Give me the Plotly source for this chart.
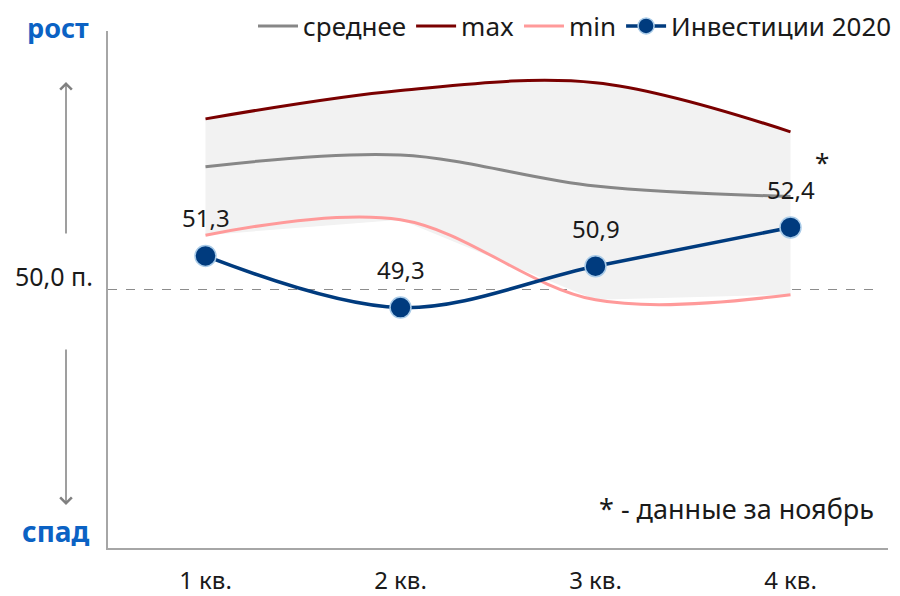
import plotly.graph_objects as go

quarters = ["1 кв.", "2 кв.", "3 кв.", "4 кв."]
mean_vals = [54.75, 55.2, 54.0, 53.6]
max_vals = [56.6, 57.7, 58.0, 56.1]
min_vals = [52.1, 52.7, 49.6, 49.8]
invest_vals = [51.3, 49.3, 50.9, 52.4]
threshold = 50.0

FONT = "Noto Sans"
TXT = "#1a1a1a"
BLUE_TXT = "#0B62C4"

fig = go.Figure()

# shaded band between min and max
fig.add_trace(go.Scatter(x=quarters, y=min_vals, mode="lines",
                         line=dict(width=0, shape="linear"), showlegend=False, hoverinfo="skip"))
fig.add_trace(go.Scatter(x=quarters, y=max_vals, mode="lines", fill="tonexty",
                         fillcolor="#F2F2F2", line=dict(width=0, shape="spline"),
                         showlegend=False, hoverinfo="skip"))

fig.add_trace(go.Scatter(x=quarters, y=mean_vals, mode="lines", name="среднее",
                         line=dict(color="#878787", width=3, shape="spline")))
fig.add_trace(go.Scatter(x=quarters, y=max_vals, mode="lines", name="max",
                         line=dict(color="#7A0000", width=3, shape="spline")))
fig.add_trace(go.Scatter(x=quarters, y=min_vals, mode="lines", name="min",
                         line=dict(color="#FF9A9A", width=3, shape="spline")))
fig.add_trace(go.Scatter(x=quarters, y=invest_vals, mode="lines+markers", name="Инвестиции 2020",
                         line=dict(color="#003B7E", width=3.5, shape="spline"),
                         marker=dict(size=21, color="#003B7E", line=dict(color="#A9CBE8", width=1.5))))

annotations = []
for q, v in zip(quarters, invest_vals):
    annotations.append(dict(x=q, y=v, xref="x", yref="y", text=f"{v:.1f}".replace(".", ","),
                            showarrow=False, yshift=38, xanchor="center", yanchor="middle",
                            font=dict(family=FONT, size=24, color=TXT)))


def px(x):
    return (x - 108) / 780


def py(y):
    return (548 - y) / 517


# left side decorations
annotations += [
    dict(xref="paper", yref="paper", x=px(66), y=py(82), ax=0, ay=153,
         showarrow=True, arrowhead=4, arrowsize=1.5, arrowwidth=1.5, arrowcolor="#808080", text=""),
    dict(xref="paper", yref="paper", x=px(66), y=py(505), ax=0, ay=-157,
         showarrow=True, arrowhead=4, arrowsize=1.5, arrowwidth=1.5, arrowcolor="#808080", text=""),
    dict(xref="paper", yref="paper", x=px(54), y=py(276), text="50,0 п.", xanchor="center", yanchor="middle",
         showarrow=False, font=dict(family=FONT, size=25, color=TXT)),
    dict(xref="paper", yref="paper", x=px(58), y=py(28), text="<b>рост</b>", xanchor="center", yanchor="middle",
         showarrow=False, font=dict(family=FONT, size=27, color=BLUE_TXT)),
    dict(xref="paper", yref="paper", x=px(56), y=py(531), text="<b>спад</b>", xanchor="center", yanchor="middle",
         showarrow=False, font=dict(family=FONT, size=28, color=BLUE_TXT)),
    dict(xref="paper", yref="paper", x=px(822), y=py(162), text="*", xanchor="center", yanchor="middle",
         showarrow=False, font=dict(family=FONT, size=26, color=TXT)),
    dict(xref="paper", yref="paper", x=px(876), y=py(508), text="* - данные за ноябрь",
         xanchor="right", yanchor="middle", showarrow=False, font=dict(family=FONT, size=27, color=TXT)),
]

# page has an 8px body margin, so the figure is 8px smaller and all margins are shifted
fig.update_layout(
    width=892, height=588,
    margin=dict(l=100, r=12, t=23, b=48, autoexpand=False),
    paper_bgcolor="white", plot_bgcolor="white",
    font=dict(family=FONT, size=24, color=TXT),
    showlegend=True,
    legend=dict(orientation="h", x=px(897), xanchor="right", y=py(26), yanchor="middle",
                font=dict(family=FONT, size=26, color=TXT), bgcolor="rgba(0,0,0,0)",
                traceorder="normal", itemwidth=40, tracegroupgap=0),
    annotations=annotations,
    shapes=[dict(type="line", xref="paper", yref="y", x0=0, x1=px(874), y0=threshold, y1=threshold,
                 line=dict(color="#8C8C8C", width=1.2, dash="dash"), layer="below")],
    xaxis=dict(range=[-0.5, 3.5], showgrid=False, zeroline=False, showline=True,
               linecolor="#A6A6A6", linewidth=2, ticks="", ticklabelstandoff=10,
               tickfont=dict(family=FONT, size=24, color=TXT)),
    yaxis=dict(range=[40, 60], showgrid=False, zeroline=False, showline=True,
               linecolor="#A6A6A6", linewidth=2, ticks="", showticklabels=False),
)

fig.write_html("out.html")
